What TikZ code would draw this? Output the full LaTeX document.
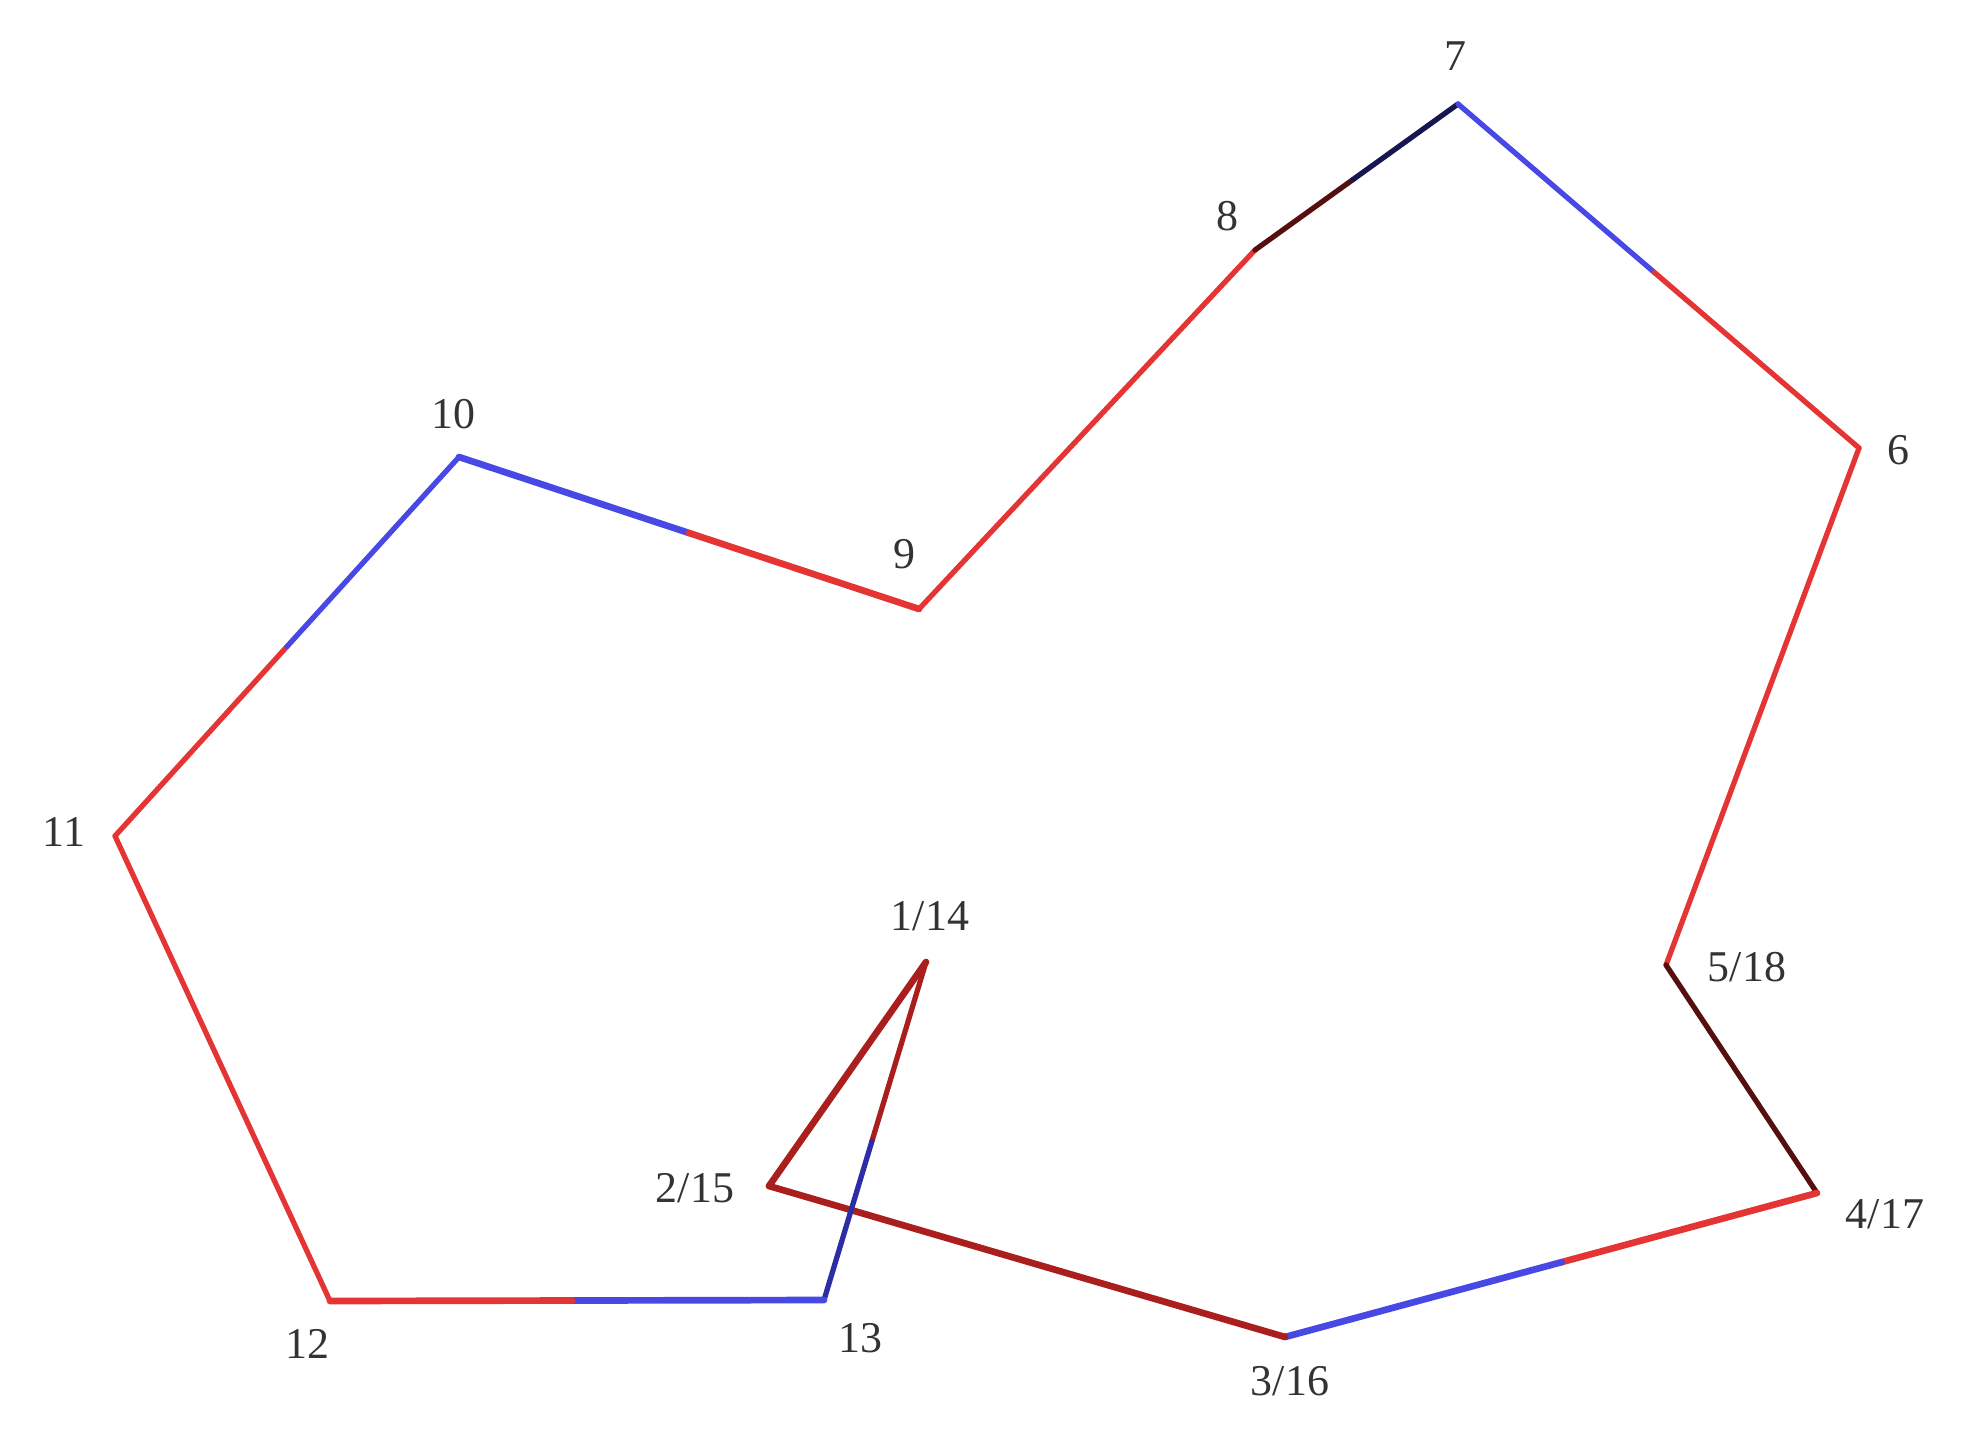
\documentclass[tikz,border=0pt]{standalone}
\usepackage{fontspec}
\setmainfont{Liberation Serif}
\usetikzlibrary{calc}
\definecolor{edgered}{RGB}{228,52,52}
\definecolor{edgeblue}{RGB}{72,72,228}
\definecolor{deepred}{RGB}{170,30,30}
\definecolor{deepblue}{RGB}{45,45,165}
\definecolor{rust}{RGB}{85,15,15}
\definecolor{navy}{RGB}{22,22,80}
\tikzset{
  edge/.style={line width=1.5pt,line cap=round},
  heavy/.style={line width=1.9pt,line cap=round},
  vlabel/.style={text=black!80,font=\fontsize{12.5}{15}\selectfont,inner sep=0pt}
}
\begin{document}
\begin{tikzpicture}
\useasboundingbox (0,0) rectangle (19.67,14.40);
% vertices
\coordinate (v1) at (9.26,4.78);
\coordinate (v2) at (7.69,2.54);
\coordinate (v3) at (12.85,1.03);
\coordinate (v4) at (18.17,2.47);
\coordinate (v5) at (16.66,4.75);
\coordinate (v6) at (18.59,9.92);
\coordinate (v7) at (14.58,13.36);
\coordinate (v8) at (12.55,11.90);
\coordinate (v9) at (9.19,8.31);
\coordinate (v10) at (4.59,9.83);
\coordinate (v11) at (1.15,6.04);
\coordinate (v12) at (3.30,1.39);
\coordinate (v13) at (8.24,1.40);
% colour changes
\coordinate (m87) at ($(v8)!.48!(v7)$);
\coordinate (m76) at ($(v7)!.49!(v6)$);
\coordinate (m109) at ($(v10)!.5!(v9)$);
\coordinate (m1011) at ($(v10)!.5!(v11)$);
\coordinate (m1213) at ($(v12)!.49!(v13)$);
\coordinate (m131) at ($(v13)!.47!(v1)$);
\coordinate (m34) at ($(v3)!.52!(v4)$);
% edges
\draw[edge,edgered] (v9) -- (v8);
\draw[edge,rust] (v8) -- (m87);
\draw[edge,navy] (m87) -- (v7);
\draw[edge,edgeblue] (v7) -- (m76);
\draw[edge,edgered] (m76) -- (v6);
\draw[edge,edgered] (v6) -- (v5);
\draw[edge,rust] (v5) -- (v4);
\draw[heavy,edgered] (v4) -- (m34);
\draw[heavy,edgeblue] (m34) -- (v3);
\draw[heavy,deepred] (v3) -- (v2);
\draw[heavy,deepred] (v2) -- (v1);
\draw[edge,deepred] (v1) -- (m131);
\draw[edge,deepblue] (m131) -- (v13);
\draw[heavy,edgeblue] (v13) -- (m1213);
\draw[heavy,edgered] (m1213) -- (v12);
\draw[edge,edgered] (v12) -- (v11);
\draw[edge,edgered] (v11) -- (m1011);
\draw[edge,edgeblue] (m1011) -- (v10);
\draw[heavy,edgeblue] (v10) -- (m109);
\draw[heavy,edgered] (m109) -- (v9);
% labels
\node[vlabel] (l1) at (9.30,5.24) {1/14};
\node[vlabel] (l2) at (6.95,2.52) {2/15};
\node[vlabel] (l3) at (12.90,0.59) {3/16};
\node[vlabel] (l4) at (18.85,2.26) {4/17};
\node[vlabel] (l5) at (17.47,4.73) {5/18};
\node[vlabel] (l6) at (18.98,9.90) {6};
\node[vlabel] (l7) at (14.55,13.84) {7};
\node[vlabel] (l8) at (12.27,12.24) {8};
\node[vlabel] (l9) at (9.04,8.86) {9};
\node[vlabel] (l10) at (4.53,10.26) {10};
\node[vlabel] (l11) at (0.64,6.08) {11};
\node[vlabel] (l12) at (3.07,0.96) {12};
\node[vlabel] (l13) at (8.60,1.02) {13};
\end{tikzpicture}
\end{document}
